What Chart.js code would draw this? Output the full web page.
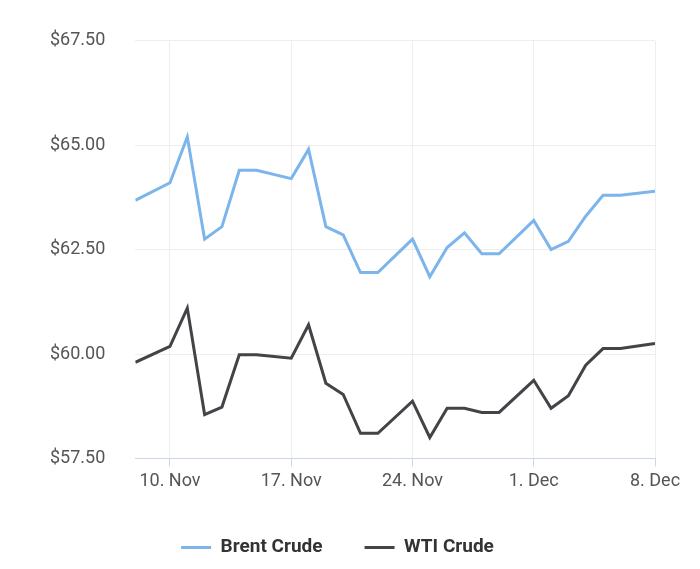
<!DOCTYPE html>
<html>
<head>
<script src="https://cdn.jsdelivr.net/npm/chart.js@4"></script>
<style>
  body { margin: 0; background: #fff; }
  #wrap { width: 700px; height: 569px; }
</style>
</head>
<body>
<div id="wrap"><canvas id="myChart"></canvas></div>
<script>
// day offsets from 8 Nov (Sundays missing)
const days = [0, 2, 3, 4, 5, 6, 7, 9, 10, 11, 12, 13, 14, 16, 17, 18, 19, 20, 21, 23, 24, 25, 26, 27, 28, 30];
const brent = [63.68, 64.1, 65.2, 62.75, 63.05, 64.4, 64.4, 64.2, 64.9, 63.05, 62.85, 61.95, 61.95,
  62.75, 61.85, 62.55, 62.9, 62.4, 62.4, 63.2, 62.5, 62.7, 63.3, 63.8, 63.8, 63.9];
const wti = [59.8, 60.18, 61.1, 58.55, 58.73, 59.98, 59.98, 59.9, 60.7, 59.3, 59.03, 58.1, 58.1,
  58.87, 58.0, 58.7, 58.7, 58.6, 58.6, 59.37, 58.7, 59.0, 59.73, 60.13, 60.13, 60.25];
const tickDays = [2, 9, 16, 23, 30];
const tickLabels = ['10. Nov', '17. Nov', '24. Nov', '1. Dec', '8. Dec'];
const yTicks = [57.5, 60, 62.5, 65, 67.5];

Chart.defaults.font.family = 'Roboto';
Chart.defaults.color = '#555';

const toPts = vals => vals.map((v, i) => ({ x: days[i], y: v }));

new Chart(document.getElementById('myChart'), {
  type: 'line',
  data: {
    datasets: [
      { label: 'Brent Crude', data: toPts(brent), borderColor: '#7cb5ec', backgroundColor: '#7cb5ec',
        borderWidth: 3, pointRadius: 0, tension: 0 },
      { label: 'WTI Crude', data: toPts(wti), borderColor: '#434348', backgroundColor: '#434348',
        borderWidth: 3, pointRadius: 0, tension: 0 }
    ]
  },
  options: {
    responsive: true,
    maintainAspectRatio: false,
    animation: false,
    layout: { padding: { left: 20, right: 45, top: 12, bottom: 2 } },
    plugins: {
      tooltip: { enabled: false },
      legend: {
        position: 'bottom',
        labels: {
          boxWidth: 30, boxHeight: 0, padding: 42,
          color: '#333', font: { size: 19, weight: 'bold' }
        }
      }
    },
    scales: {
      x: {
        type: 'linear', min: 0, max: 30,
        afterBuildTicks: ax => { ax.ticks = tickDays.map(v => ({ value: v })); },
        ticks: {
          font: { size: 18 }, padding: 4,
          callback: v => tickLabels[tickDays.indexOf(v)]
        },
        grid: { color: '#eee', tickColor: '#ccd6eb', tickLength: 8 },
        border: { color: '#ccd6eb' }
      },
      y: {
        min: 57.5, max: 67.5,
        afterBuildTicks: ax => { ax.ticks = yTicks.map(v => ({ value: v })); },
        ticks: { font: { size: 18 }, padding: 30, callback: v => '$' + v.toFixed(2) },
        grid: { color: '#eee', drawTicks: false },
        border: { display: false }
      }
    }
  }
});
</script>
</body>
</html>
